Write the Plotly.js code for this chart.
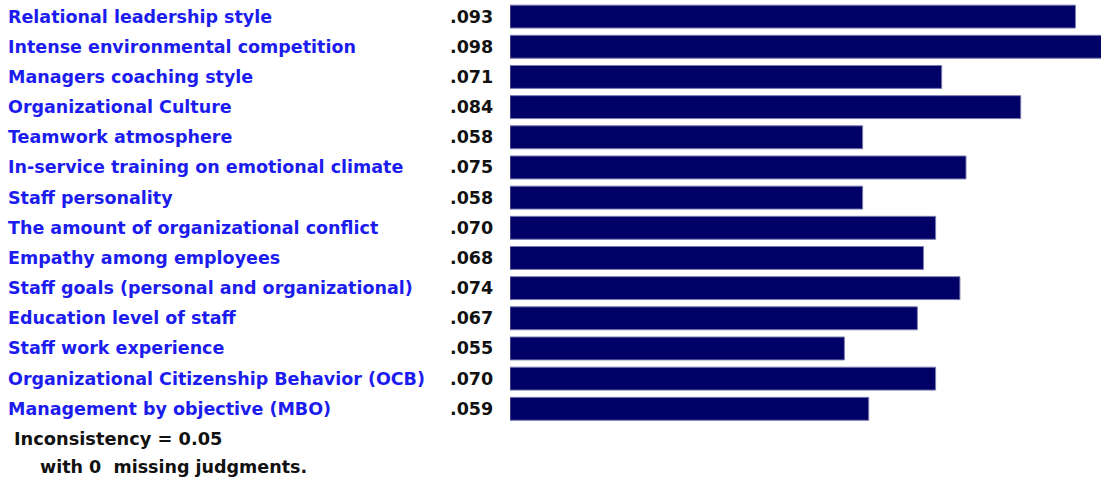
<!DOCTYPE html>
<html><head><meta charset="utf-8">
<script src="https://cdn.plot.ly/plotly-3.0.1.min.js"></script>
<style>html,body{margin:0;padding:0;background:#fff;}#chart{width:1101px;height:483px;}</style>
</head><body><div id="chart"></div>
<script>
const categories = [
  "Relational leadership style",
  "Intense environmental competition",
  "Managers coaching style",
  "Organizational Culture",
  "Teamwork atmosphere",
  "In-service training on emotional climate",
  "Staff personality",
  "The amount of organizational conflict",
  "Empathy among employees",
  "Staff goals (personal and organizational)",
  "Education level of staff",
  "Staff work experience",
  "Organizational Citizenship Behavior (OCB)",
  "Management by objective (MBO)"
];
const values = [0.093, 0.098, 0.071, 0.084, 0.058, 0.075, 0.058, 0.070, 0.068, 0.074, 0.067, 0.055, 0.070, 0.059];
const valueLabels = [".093", ".098", ".071", ".084", ".058", ".075", ".058", ".070", ".068", ".074", ".067", ".055", ".070", ".059"];
const footer1 = "Inconsistency = 0.05";
const footer2 = "with 0&nbsp; missing judgments.";

const W = 1101, H = 483;
const FONT = "DejaVu Sans, sans-serif";
const idx = categories.map((c, i) => i);
const rowPx = 30.17, firstCenter = 16.6;
const yTop = -firstCenter / rowPx;
const yBot = yTop + H / rowPx;

const annotations = [];
categories.forEach((c, i) => {
  annotations.push({xref: 'paper', yref: 'y', x: -504/591, y: i, text: '<b>' + c + '</b>',
    showarrow: false, xanchor: 'left', yanchor: 'middle', align: 'left',
    font: {family: FONT, size: 17.5, color: '#1c1cee'}});
  annotations.push({xref: 'paper', yref: 'y', x: -15/591, y: i, text: '<b>' + valueLabels[i] + '</b>',
    showarrow: false, xanchor: 'right', yanchor: 'middle', align: 'right',
    font: {family: FONT, size: 17.5, color: '#111'}});
});
annotations.push({xref: 'paper', yref: 'y', x: -498/591, y: categories.length, text: '<b>' + footer1 + '</b>',
  showarrow: false, xanchor: 'left', yanchor: 'middle', font: {family: FONT, size: 17.8, color: '#111'}});
annotations.push({xref: 'paper', yref: 'y', x: -472/591, y: categories.length + 0.93, text: '<b>' + footer2 + '</b>',
  showarrow: false, xanchor: 'left', yanchor: 'middle', font: {family: FONT, size: 17.5, color: '#111'}});

Plotly.newPlot('chart', [{
  type: 'bar', orientation: 'h', x: values, y: idx, width: 0.76,
  marker: {color: '#000066', line: {color: '#7a7ab0', width: 1}},
  hoverinfo: 'none'
}], {
  width: W, height: H,
  margin: {l: 510, r: 0, t: 0, b: 0, pad: 0},
  paper_bgcolor: '#fff', plot_bgcolor: '#fff',
  showlegend: false,
  xaxis: {range: [0, 591/6080], showgrid: false, zeroline: false, showticklabels: false, ticks: '', showline: false, fixedrange: true},
  yaxis: {range: [yBot, yTop], showgrid: false, zeroline: false, showticklabels: false, ticks: '', showline: false, fixedrange: true},
  annotations: annotations
}, {staticPlot: true, displayModeBar: false});
</script></body></html>
